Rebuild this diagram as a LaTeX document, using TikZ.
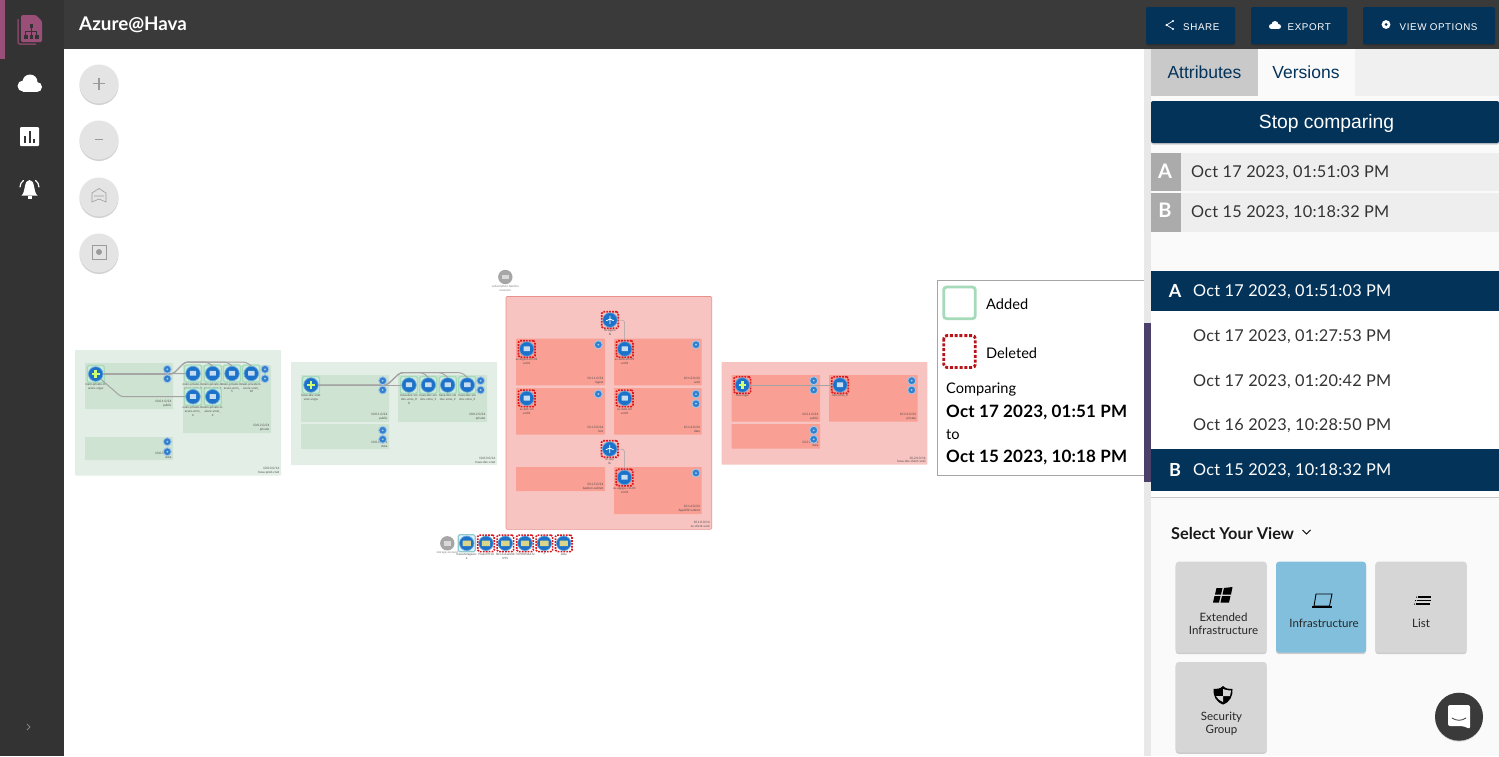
\documentclass[tikz,border=0pt]{standalone}
\usepackage{fontspec}
\setmainfont{Lato}
\newfontfamily\rob{Liberation Sans}
\usetikzlibrary{shadows,calc}
\definecolor{navy}{HTML}{04335A}
\definecolor{barD}{HTML}{3A3A3A}
\definecolor{sideD}{HTML}{333333}
\definecolor{pinkM}{HTML}{9A4F78}
\definecolor{vnetG}{HTML}{E3EFE6}
\definecolor{subG}{HTML}{CFE3D2}
\definecolor{vnetR}{HTML}{F8C4C1}
\definecolor{subR}{HTML}{F99F94}
\definecolor{edgeR}{HTML}{E8918C}
\definecolor{blueN}{HTML}{1B72C8}
\definecolor{delR}{HTML}{D9161C}
\definecolor{addG}{HTML}{A5DABB}
\definecolor{tile}{HTML}{D6D6D6}
\definecolor{tileB}{HTML}{82BFDC}
\definecolor{rowG}{HTML}{EEEEEE}
\definecolor{letG}{HTML}{ABABAB}
\definecolor{purp}{HTML}{4A4069}
\definecolor{zoomG}{HTML}{E4E4E4}
\definecolor{zoomI}{HTML}{9B9B9B}
\definecolor{stY}{HTML}{D9D68C}
\newcommand\fsz[1]{\fontsize{#1}{#1}\selectfont}
\tikzset{
  softshadow/.style={drop shadow={shadow xshift=0pt,shadow yshift=-1.5pt,opacity=.18,fill=black}},
  addbox/.style={draw=addG,line width=1.2pt,fill=addG!55,rounded corners=1.5pt,minimum size=17pt,inner sep=0pt},
  addblue/.style={draw=cyan!20!addG,line width=1.2pt,fill=cyan!15,rounded corners=1.5pt,minimum size=17pt,inner sep=0pt},
  delbox/.style={draw=delR,line width=1.6pt,dash pattern=on 1.8pt off 1.1pt,rounded corners=1.5pt,minimum size=16.5pt,inner sep=0pt},
  plainbox/.style={minimum size=1pt,inner sep=0pt},
  rescircle/.style={circle,fill=blueN,draw=blueN!65!white,line width=.7pt,minimum size=14.5pt,inner sep=0pt},
  smallc/.style={circle,fill=blueN!90!white,draw=blueN!40!white,line width=.9pt,minimum size=8pt,inner sep=0pt},
  reslabel/.style={font=\fontsize{3}{3.8}\selectfont,text=black!70,align=center,anchor=north,inner sep=0pt},
  sublabel/.style={font=\fontsize{3.1}{3.8}\selectfont,text=black!70,align=right,anchor=south east,inner sep=0pt},
  conn/.style={draw=black!36,line width=1pt,rounded corners=3pt},
  zoombtn/.style={circle,fill=zoomG,minimum size=39pt,inner sep=0pt,softshadow},
  zoomicon/.style={draw=zoomI,line width=1pt},
  ui/.style={inner sep=0pt,anchor=west},
  tilebox/.style={rounded corners=3pt,softshadow},
  topbtn/.style={fill=navy,rounded corners=2pt,softshadow},
  topbtntxt/.style={ui,text=white,font={\rob\fsz{9.8}\addfontfeatures{LetterSpace=6}}},
  ver/.style={ui,text=black!80,font={\fsz{16.3}\addfontfeatures{LetterSpace=1.5}}},
  legtxt/.style={ui,font=\fsz{14.6}},
  legbold/.style={ui,font={\bfseries\fsz{17}\addfontfeatures{LetterSpace=1}}},
  tiletxt/.style={inner sep=0pt,align=center,text=black!85,font=\fsz{11.5}},
}
% box with two-line caption: x1,y1,x2,y2,fill,caption,name
\newcommand\netbox[7]{%
  \fill[#5,rounded corners=.6pt] (#1,#2) rectangle (#3,#4);
  \node[sublabel] (#7) at (#3-1.5,#4-1.5) {#6};}
% resource: name,x,y,box style,icon kind,label
\newcommand\res[6]{%
  \node[#4] (#1box) at (#2,#3) {};
  \node[rescircle] (#1) at (#2,#3) {};
  \csname icon#5\endcsname{#2}{#3}
  \node[reslabel] (#1lbl) at (#2,#3+9.5) {#6};}
\newcommand\iconvm[2]{\fill[blueN!25!white,rounded corners=.4pt] (#1-3.2,#2-2.6) rectangle (#1+3.2,#2+2.2);}
\newcommand\icongw[2]{\fill[green!35!yellow!55!white] (#1-1.3,#2-3.8) rectangle (#1+1.3,#2+3.8);\fill[green!35!yellow!55!white] (#1-3.8,#2-1.3) rectangle (#1+3.8,#2+1.3);}
\newcommand\iconlb[2]{\draw[white,line width=.8pt] (#1,#2-4.2) -- (#1,#2+4.2) (#1-3.8,#2+.8) -- (#1,#2-1) -- (#1+3.8,#2+.8);}
\newcommand\iconst[2]{\fill[stY,rounded corners=.3pt] (#1-4.2,#2-2.6) rectangle (#1+4.2,#2+2.8);}
% small circle: name,x,y
\newcommand\smc[3]{\node[smallc] (#1) at (#2,#3) {};\fill[blueN!35!white] (#2,#3) circle (1);}
\begin{document}
\begin{tikzpicture}[x=1pt,y=-1pt]
\useasboundingbox (0,0) rectangle (1499,756);
\fill[white] (0,0) rectangle (1499,756);
%--------- chrome
\fill[sideD] (0,0) rectangle (64,756);
\fill[barD] (64,0) rectangle (1499,49);
\fill[pinkM] (0,0) rectangle (5,59);
% logo
\draw[pinkM!85!black,line width=1.5pt,rounded corners=1.5pt] (18,19) -- (18,44) -- (36,44);
\fill[pinkM,rounded corners=1.5pt] (21,15) -- (36,15) -- (42,21) -- (42,42) -- (21,42) -- cycle;
\fill[sideD] (29.5,24) rectangle (33,27.5);
\fill[sideD] (24,35) rectangle (27.5,38.5);
\fill[sideD] (29.5,35) rectangle (33,38.5);
\fill[sideD] (35,35) rectangle (38.5,38.5);
\draw[sideD,line width=.7pt] (31.2,27) -- (31.2,35) (25.7,35) -- (25.7,31) -- (36.7,31) -- (36.7,35);
% cloud
\fill[white] (23,86) circle (5.5);
\fill[white] (30,82) circle (7.5);
\fill[white] (37,87) circle (5);
\fill[white] (23,86) rectangle (37,92);
% chart
\fill[white,rounded corners=1pt] (20,127) rectangle (39,146);
\fill[sideD] (24,136) rectangle (26,143);
\fill[sideD] (28.5,131) rectangle (30.5,143);
\fill[sideD] (33,139) rectangle (35,143);
% bell
\fill[white] (21.5,195.5) .. controls (26,192) and (23.5,180) .. (29.5,180) .. controls (35.5,180) and (33,192) .. (37.5,195.5) -- cycle;
\fill[white] (27.5,196) rectangle (31.5,199);
\draw[white,line width=1.2pt,line cap=round] (20,187) .. controls (20,184) and (21.5,182) .. (23.5,180.5) (39,187) .. controls (39,184) and (37.5,182) .. (35.5,180.5);
\draw[black!50,line width=.8pt] (27,724) -- (30,727) -- (27,730);
\node[ui,text=white,font={\bfseries\fsz{18.8}}] (title) at (79,25) {Azure@Hava};
% zoom buttons
\node[zoombtn] (zplus) at (99,84) {};
\draw[zoomicon,line width=1.2pt] (93,83.5) -- (105,83.5) (99,77.5) -- (99,89.5);
\node[zoombtn] (zminus) at (99,140) {};
\draw[zoomicon,line width=1.2pt] (95,139.5) -- (103,139.5);
\node[zoombtn] (zfit) at (99,197) {};
\draw[zoomicon,line width=.6pt] (92,193) -- (99,188.5) -- (106,193) -- (106,202) -- (99,199) -- (92,202) -- cycle (94,196) -- (104,196);
\node[zoombtn] (zcenter) at (99,253) {};
\draw[zoomicon,line width=.6pt] (92,245) rectangle (106,259);
\fill[zoomI] (99,252) circle (3);
%--------- first green vnet
\netbox{75}{350}{281}{475.5}{vnetG}{10.0.0.0/16\\hava-prod-vnet}{capa}
\netbox{85}{363}{173}{409}{subG}{10.0.1.0/24\\public}{capaa}
\netbox{183}{365}{271}{433}{subG}{10.0.2.0/24\\private}{capab}
\netbox{85}{437}{173}{460}{subG}{10.0.3.0/24\\data}{capac}
\res{gwa}{95.7}{374}{addbox}{gw}{main-private-0-\\azure-vngw}
\res{vma}{193}{373.5}{addbox}{vm}{main-private-0-\\azure-vmm\_0}
\res{vmb}{212.7}{373.5}{addbox}{vm}{main-private-0-\\azure-vmm\_1}
\res{vmc}{232}{373.5}{addbox}{vm}{main-private-0-\\azure-vmm\_\\5}
\res{vmd}{251.3}{373.5}{addbox}{vm}{main-private-0-\\azure-vmm\_\\10}
\res{vme}{193}{396.7}{addbox}{vm}{main-private-0-\\azure-vmm\_\\6}
\res{vmf}{212.7}{396.7}{addbox}{vm}{main-private-0-\\azure-vmm\_\\4}
\draw[conn] (gwa.east) -- (vma.west);
\draw[conn] (gwa.east) -- (173,374) -- (185,362) -- (246,362) -- (vmd.north);
\draw[conn] (gwa.east) -- (173,374) -- (185,362) -- (207,362) -- (vmb.north);
\draw[conn] (gwa.east) -- (173,374) -- (185,362) -- (227,362) -- (vmc.north);
\draw[conn] (gwa.south east) -- (121,396.7) -- (vme.west);
\smc{sa}{167.3}{369.3}\smc{sb}{167.3}{378.7}\smc{sc}{265}{369.3}\smc{sd}{265}{378.7}\smc{se}{167.3}{441.7}\smc{sf}{167.3}{451.7}
%--------- second green vnet
\netbox{291}{362}{497}{465}{vnetG}{10.0.0.0/16\\hava-dev-vnet}{capb}
\netbox{301}{375}{389}{422}{subG}{10.0.1.0/24\\public}{capba}
\netbox{398}{375}{487}{422}{subG}{10.0.2.0/24\\private}{capbb}
\netbox{301}{424}{389}{449}{subG}{10.0.3.0/24\\data}{capbc}
\res{gwb}{311}{385}{addbox}{gw}{hava-dev-vnet\\vnet-vngw}
\res{vmg}{409}{385}{addbox}{vm}{hava-dev-vm\\dev-vmss\_0\\0}
\res{vmh}{428.3}{385}{addbox}{vm}{hava-dev-vm\\dev-vmss\_1}
\res{vmi}{447.7}{385}{addbox}{vm}{hava-dev-vm\\dev-vmss\_2}
\res{vmj}{467.3}{385}{addbox}{vm}{hava-dev-vm\\dev-vmss\_3}
\draw[conn] (gwb.east) -- (vmg.west);
\draw[conn] (gwb.east) -- (387,385) -- (400,372.7) -- (462,372.7) -- (vmj.north);
\draw[conn] (gwb.east) -- (387,385) -- (400,372.7) -- (423,372.7) -- (vmh.north);
\draw[conn] (gwb.east) -- (387,385) -- (400,372.7) -- (442,372.7) -- (vmi.north);
\smc{sg}{382.7}{380.7}\smc{sh}{382.7}{390}\smc{si}{480.7}{380.7}\smc{sj}{480.7}{390}\smc{sk}{382.7}{430.3}\smc{sl}{382.7}{439.3}
%--------- central red vnet
\node[plainbox,circle,minimum size=14.4pt,fill=black!35] (grayt) at (505.3,277) {};
\fill[white!85!black] (502,275) rectangle (508.5,279);
\node[reslabel,text=black!50] (grayl) at (505.3,285.5) {subscription-bastion\\resource};
\draw[edgeR,line width=.6pt,fill=vnetR,rounded corners=1pt] (506,296.5) rectangle (711.7,529.3);
\node[sublabel] (capc) at (710,527.5) {10.1.0.0/16\\av-client-vnet};
\netbox{516}{338.7}{605}{385.3}{subR}{10.1.1.0/24\\ingest}{capca}
\netbox{614}{338.7}{701.7}{385.3}{subR}{10.1.2.0/24\\web}{capcb}
\netbox{516}{388}{605}{434.5}{subR}{10.1.3.0/24\\bot}{capcc}
\netbox{614}{388}{701.7}{434.5}{subR}{10.1.4.0/24\\data}{capcd}
\netbox{516}{467}{605}{491}{subR}{10.1.5.0/24\\bastion-subnet}{capce}
\netbox{614}{467}{701.7}{514}{subR}{10.1.6.0/24\\AppGW-subnet}{capcf}
\res{lba}{610}{320}{delbox}{lb}{lb-ingest\\lb}
\res{vmk}{526.7}{349}{delbox}{vm}{av-ingest-vm-01\\vm01}
\res{vml}{624.7}{349}{delbox}{vm}{av-web-vm-01\\vm01}
\res{vmm}{526.7}{398.3}{delbox}{vm}{av-bot-vm\\vm01}
\res{vmn}{624.7}{398.3}{delbox}{vm}{av-data-vm\\vm01}
\res{lbb}{609.7}{449}{delbox}{lb}{lb-app\\lb}
\res{vmo}{624.5}{477.5}{delbox}{vm}{av-appgw-vm-01\\vm01}
\draw[conn,line width=.5pt] (lba.east) -- (624.7,320) -- (vmlbox.north);
\draw[conn,line width=.5pt] (lbb.east) -- (624.5,449) -- (vmobox.north);
\smc{sm}{598.3}{344.7}\smc{sn}{696}{344.7}\smc{so}{598.3}{394}\smc{sp}{696}{394}\smc{sq}{696}{403.7}\smc{sr}{696}{473}
%--------- storage row
\node[plainbox,circle,minimum size=14.4pt,fill=black!35] (stg) at (447.3,543.3) {};
\fill[white!85!black] (443.5,541) rectangle (451,546);
\node[reslabel,text=black!50] (stgl) at (447.3,551.5) {storage-account};
\res{sta}{466.7}{543.3}{addblue}{st}{havastorageacc\\k}
\res{stb}{486}{543.3}{delbox}{st}{f5a2ef7b1d}
\res{stc}{505.3}{543.3}{delbox}{st}{fbcc3a1a2ebb\\b94}
\res{std}{525}{543.3}{delbox}{st}{7d7f00f464.fe}
\res{ste}{544.3}{543.3}{delbox}{st}{a}
\res{stf}{563.7}{543.3}{delbox}{st}{data}
%--------- right red vnet
\netbox{721.7}{362}{927.3}{464.7}{vnetR}{10.2.0.0/16\\hava-dev-client-vnet}{capd}
\netbox{731.7}{375}{820}{421.7}{subR}{10.2.1.0/24\\public}{capda}
\netbox{829}{375}{917.7}{421.7}{subR}{10.2.2.0/24\\private}{capdb}
\netbox{731.7}{424}{820}{448.7}{subR}{10.2.3.0/24\\data}{capdc}
\res{gwc}{742.3}{385}{delbox}{gw}{hva-vngw}
\res{vmp}{840}{385}{delbox}{vm}{hva-vmss\_0}
\draw[conn,line width=.5pt] (gwc.east) -- (vmp.west);
\smc{ss}{813.7}{380.7}\smc{st}{813.7}{390}\smc{su}{911.7}{380.7}\smc{sv}{911.7}{390}\smc{sw}{813.7}{430.3}\smc{sx}{813.7}{439.3}
%--------- legend
\draw[black!35,line width=.8pt,fill=white] (937,280.5) rectangle (1144,475);
\draw[addG,line width=2.8pt,rounded corners=3pt] (943.7,287) rectangle (975.3,318.7);
\node[legtxt] (lega) at (986,304) {Added};
\draw[delR!85!black,line width=2.8pt,dash pattern=on 3pt off 1.8pt,rounded corners=3pt] (943.7,335.6) rectangle (975.3,367.4);
\node[legtxt] (legd) at (986,353) {Deleted};
\node[legtxt] (legc) at (946,389.5) {Comparing};
\node[legbold] (lego) at (946,412) {Oct 17 2023, 01:51 PM};
\node[legtxt] (legt) at (946,434.5) {to};
\node[legbold] (legp) at (946,457) {Oct 15 2023, 10:18 PM};
%--------- right panel
\fill[black!9] (1144,49) rectangle (1151,756);
\fill[black!2] (1151,49) rectangle (1499,756);
\fill[purp] (1144,323) rectangle (1151,482);
\fill[black!6] (1151,49) rectangle (1499,96);
\fill[black!21] (1151,49) rectangle (1258,96);
\fill[black!2] (1258,49) rectangle (1355,96);
\node[text=navy,inner sep=0pt,font={\rob\fsz{17.5}}] (taba) at (1204.5,72) {Attributes};
\node[text=navy,inner sep=0pt,font={\rob\fsz{17.5}}] (tabv) at (1306,72) {Versions};
\fill[navy,rounded corners=2pt,softshadow] (1151,101) rectangle (1499,143);
\node[text=white,inner sep=0pt,font={\rob\fsz{19.3}}] (stop) at (1326.5,123.5) {Stop comparing};
\fill[rowG] (1151,153) rectangle (1499,191);
\fill[rowG] (1151,193) rectangle (1499,232);
\fill[letG] (1151,153) rectangle (1181,191);
\fill[letG] (1151,193) rectangle (1181,232);
\node[text=white,inner sep=0pt,font={\bfseries\fsz{20}}] (la) at (1165,171) {A};
\node[text=white,inner sep=0pt,font={\bfseries\fsz{20}}] (lb) at (1165,210.5) {B};
\node[ver] (ra) at (1191,172.5) {Oct 17 2023, 01:51:03 PM};
\node[ver] (rb) at (1191,212.5) {Oct 15 2023, 10:18:32 PM};
\fill[white,drop shadow={shadow xshift=0pt,shadow yshift=-1pt,opacity=.2,fill=black}] (1151,271) rectangle (1499,497);
\fill[navy] (1151,271) rectangle (1499,311);
\fill[navy] (1151,449) rectangle (1499,491);
\node[text=white,inner sep=0pt,font={\bfseries\fsz{18}}] (da) at (1175,291) {A};
\node[ver,text=white] (va) at (1193,292) {Oct 17 2023, 01:51:03 PM};
\node[ver] (vb) at (1193,336.5) {Oct 17 2023, 01:27:53 PM};
\node[ver] (vc) at (1193,381.5) {Oct 17 2023, 01:20:42 PM};
\node[ver] (vd) at (1193,425.5) {Oct 16 2023, 10:28:50 PM};
\node[text=white,inner sep=0pt,font={\bfseries\fsz{18}}] (db) at (1175,470) {B};
\node[ver,text=white] (ve) at (1193,470.5) {Oct 15 2023, 10:18:32 PM};
% top buttons
\fill[topbtn] (1146,7) rectangle (1235,44);
\fill[topbtn] (1251,7) rectangle (1347,44);
\fill[topbtn] (1363,7) rectangle (1495,44);
\node[topbtntxt] (bs) at (1183,27.5) {SHARE};
\node[topbtntxt] (be) at (1287.5,27.5) {EXPORT};
\node[topbtntxt] (bv) at (1399.5,27.5) {VIEW OPTIONS};
\draw[white,line width=.7pt] (1173,21) -- (1166.5,25) -- (1173,29);
\fill[white] (1173,21) circle (1.2);
\fill[white] (1166.5,25) circle (1.2);
\fill[white] (1173,29) circle (1.2);
\fill[white] (1271.5,26.5) circle (2.5);
\fill[white] (1275,24.5) circle (3.5);
\fill[white] (1278.5,26.5) circle (2.5);
\fill[white] (1271.5,27) rectangle (1278.5,29);
\fill[white] (1386,24.5) circle (4.4);
\fill[navy] (1386,24.5) circle (1.5);
% select your view
\node[ui,text=black!90,font={\bfseries\fsz{16.3}}] (sel) at (1171,533) {Select Your View};
\draw[black,line width=1pt] (1302.5,530) -- (1306.5,534) -- (1310.5,530);
\fill[tile,tilebox] (1175.7,561.7) rectangle (1266.7,652.7);
\fill[tileB,tilebox] (1276,561.7) rectangle (1366,652.7);
\fill[tile,tilebox] (1375.3,561.7) rectangle (1466.7,652.7);
\fill[tile,tilebox] (1175.7,662) rectangle (1266.7,752.3);
\node[tiletxt] (tea) at (1223.5,623.5) {Extended\\[1.2pt]Infrastructure};
\node[tiletxt] (teb) at (1324,623) {Infrastructure};
\node[tiletxt] (tec) at (1421,623) {List};
\node[tiletxt] (ted) at (1221.5,724) {Security\\[1.2pt]Group};
% windows icon
\fill[black] (1216.5,588) -- (1222.5,588) -- (1221,594.5) -- (1215,594.5) -- cycle (1224,588) -- (1232.5,587) -- (1231,594.5) -- (1222.5,594.5) -- cycle (1214.5,596) -- (1220.5,596) -- (1219,602.5) -- (1213,602.5) -- cycle (1222,596) -- (1230.5,596) -- (1229,602.5) -- (1220.5,602.5) -- cycle;
% laptop icon
\draw[black,line width=.9pt] (1316,594) -- (1332,594) -- (1329.5,606) -- (1314,606) -- cycle;
\draw[black,line width=1.1pt] (1312,607) -- (1332,607);
% list icon
\draw[black,line width=1.1pt] (1418,597) -- (1431,597) (1417,600.5) -- (1431,600.5) (1416,604) -- (1430,604);
\fill[black] (1416,596.5) rectangle (1417,597.5) (1415,600) rectangle (1416,601) (1414,603.5) rectangle (1415,604.5);
% shield icon
\fill[black] (1223,686) .. controls (1226,689) and (1229,689) .. (1232.5,689) .. controls (1233,696) and (1230,702) .. (1223,704.5) .. controls (1216,702) and (1213,696) .. (1213.5,689) .. controls (1217,689) and (1220,689) .. (1223,686) -- cycle;
\fill[tile] (1223,689) -- (1223,696) -- (1230,696) .. controls (1230.5,693) and (1231,692) .. (1231,690.5) .. controls (1228,690.5) and (1225,690) .. (1223,689) -- cycle;
\fill[tile] (1223,696) -- (1223,702) .. controls (1219,700) and (1216.5,698) .. (1216,696) -- cycle;
% chat
\fill[barD,drop shadow={shadow xshift=0pt,shadow yshift=-1pt,opacity=.15,fill=black}] (1459,716.7) circle (24);
\fill[white,rounded corners=2pt] (1448,705) -- (1470,705) -- (1470,729) -- (1463,726) -- (1448,726) -- cycle;
\draw[barD,line width=.8pt,line cap=round] (1452,718) .. controls (1456,721) and (1462,721) .. (1466,718);
\end{tikzpicture}
\end{document}
